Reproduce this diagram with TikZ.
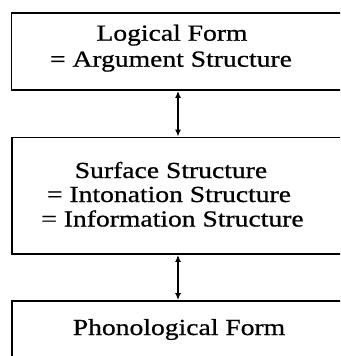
\documentclass[tikz,border=0pt]{standalone}
\usepackage{fontspec}
\setmainfont[FakeStretch=1.2,FakeBold=0.8]{Liberation Serif}
\usetikzlibrary{arrows.meta}
\begin{document}
\begin{tikzpicture}[x=1pt,y=-1pt,
  box/.style={draw,line width=1.8pt,inner sep=0pt,minimum width=340pt},
  lbl/.style={anchor=base,inner sep=0pt,font=\fontsize{23}{26}\selectfont},
  link/.style={line width=1.8pt,{Latex[length=7pt,width=6pt]}-{Latex[length=7pt,width=6pt]}}]
\useasboundingbox (0,0) rectangle (340,356);
\clip (0,0) rectangle (340,356);
\node[box,minimum height=77.3pt] (b1) at (181.5,51.35) {};
\node[box,minimum height=116.5pt] (b2) at (181.8,195.75) {};
\node[box,minimum height=69pt] (b3) at (181.8,335.5) {};
\coordinate (ax) at (178,0);
\draw[link] (b1.south -| ax) -- (b2.north -| ax);
\draw[link] (b2.south -| ax) -- (b3.north -| ax);
\node[lbl] (t1) at (172,40.7) {Logical Form};
\node[lbl] (t2) at (171,66.7) {= Argument Structure};
\node[lbl] (t3) at (171,178) {Surface Structure};
\node[lbl] (t4) at (169,202) {= Intonation Structure};
\node[lbl] (t5) at (172.5,226.5) {= Information Structure};
\node[lbl] (t6) at (179,335) {Phonological Form};
\end{tikzpicture}
\end{document}
